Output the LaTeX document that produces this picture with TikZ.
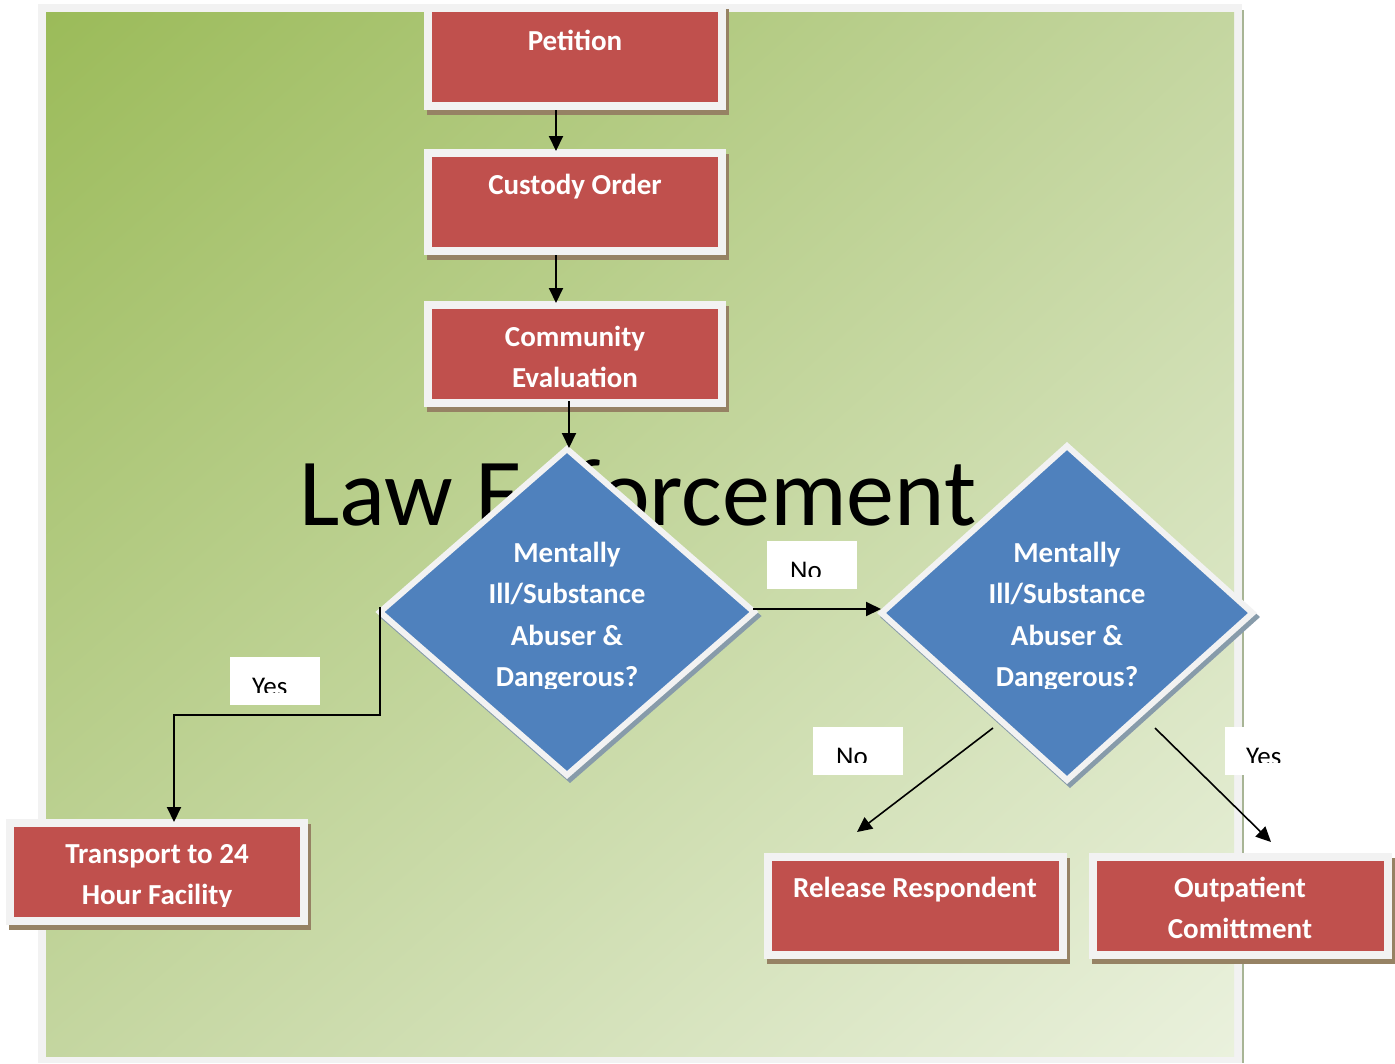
\documentclass[tikz,border=0pt]{standalone}
\usepackage{fontspec}
\setmainfont{Carlito}
\usetikzlibrary{shapes.geometric,arrows.meta,shadings}
\definecolor{boxred}{RGB}{192,80,77}
\definecolor{boxedge}{RGB}{242,242,242}
\definecolor{diablue}{RGB}{79,129,189}
\definecolor{bgdark}{RGB}{155,187,89}
\definecolor{bglight}{RGB}{234,241,221}
\definecolor{bgmid}{RGB}{196,214,160}
\definecolor{boxshadow}{RGB}{150,130,100}
\definecolor{diashadow}{RGB}{135,155,170}
\definecolor{frameshadow}{RGB}{168,181,149}
\begin{document}
\begin{tikzpicture}[x=1pt,y=-1pt,
  flowbox/.style={rectangle, fill=boxred, draw=boxedge, line width=8pt,
    minimum width=294pt, minimum height=98pt, inner sep=0pt, outer sep=0pt,
    preaction={draw=boxshadow, fill=boxshadow, line width=8pt, transform canvas={shift={(3,5)}}}},
  decision/.style={diamond, fill=diablue, draw=boxedge, line width=6pt,
    inner sep=0pt, outer sep=0pt,
    preaction={draw=diashadow, line width=6pt, transform canvas={shift={(3,4)}}}},
  boxtext/.style={anchor=base, inner sep=0pt, text=white,
    font=\bfseries\fontsize{29}{41}\selectfont},
  lblbox/.style={fill=white, minimum width=90pt, minimum height=48pt, inner sep=0pt, anchor=north west},
  lbltext/.style={anchor=base west, inner sep=0pt, font=\fontsize{27}{32}\selectfont},
  arr/.style={line width=2pt, -{Triangle[length=15pt,width=14pt]}},
  arrthin/.style={line width=1.6pt, -{Triangle[length=15pt,width=14pt]}}
]
\useasboundingbox (0,0) rectangle (1395,1063);
\fill[white] (0,0) rectangle (1395,1063);
% background frame
\fill[boxedge] (38,4) rectangle (1242,1063);
\shade[upper left=bgdark, lower right=bglight, upper right=bgmid, lower left=bgmid]
  (46,12) rectangle (1234,1056);
\fill[frameshadow] (1242,10) rectangle (1244,1063);

% title text
\node[anchor=base west, inner sep=0pt, font=\fontsize{96}{110}\selectfont] (title) at (299,525) {Law Enforcement};

% label boxes
\node[lblbox] (lno1) at (767,541) {};
\node[lblbox] (lyes1) at (230,657) {};
\node[lblbox] (lno2) at (813,727) {};
\node[lblbox] (lyes2) at (1225,727) {};
\begin{scope}
  \clip (767,541) rectangle (857,576);
  \node[lbltext] (tno1) at (790,579) {No};
\end{scope}
\begin{scope}
  \clip (230,657) rectangle (320,692);
  \node[lbltext] (tyes1) at (252,695) {Yes};
\end{scope}
\begin{scope}
  \clip (813,727) rectangle (903,762);
  \node[lbltext] (tno2) at (836,765) {No};
\end{scope}
\begin{scope}
  \clip (1225,727) rectangle (1315,762);
  \node[lbltext] (tyes2) at (1246,765) {Yes};
\end{scope}

% boxes
\node[flowbox] (pet) at (575,57) {};
\node[flowbox] (cust) at (575,202) {};
\node[flowbox] (comm) at (575,354) {};
\node[flowbox] (trans) at (157,871.5) {};
\node[flowbox, minimum width=295pt] (rel) at (915,905.5) {};
\node[flowbox, minimum width=295pt] (outp) at (1240.5,905.5) {};

\node[boxtext] (tpet) at (575,50) {Petition};
\node[boxtext] (tcust) at (575,194) {Custody Order};
\node[boxtext] (tcomm1) at (575,346) {Community};
\node[boxtext] (tcomm2) at (575,387) {Evaluation};
\begin{scope}
  \clip (14,826) rectangle (300,906);
  \node[boxtext] (ttr1) at (157,863) {Transport to 24};
  \node[boxtext] (ttr2) at (157,904) {Hour Facility};
\end{scope}
\node[boxtext] (trel) at (915,897) {Release Respondent};
\node[boxtext] (tout1) at (1240,897) {Outpatient};
\node[boxtext] (tout2) at (1240,938) {Comittment};

% decisions
\node[decision, minimum width=374pt, minimum height=326pt] (d1) at (567,612) {};
\node[decision, minimum width=371pt, minimum height=334pt] (d2) at (1067,613) {};
\begin{scope}
  \clip (380,520) rectangle (760,688);
  \node[boxtext] (td1a) at (567,562) {Mentally};
  \node[boxtext] (td1b) at (567,603) {Ill/Substance};
  \node[boxtext] (td1c) at (567,645) {Abuser \&};
  \node[boxtext] (td1d) at (567,686) {Dangerous?};
\end{scope}
\begin{scope}
  \clip (880,520) rectangle (1260,688);
  \node[boxtext] (td2a) at (1067,562) {Mentally};
  \node[boxtext] (td2b) at (1067,603) {Ill/Substance};
  \node[boxtext] (td2c) at (1067,645) {Abuser \&};
  \node[boxtext] (td2d) at (1067,686) {Dangerous?};
\end{scope}

% connectors
\coordinate (c1a) at (556,110);
\coordinate (c1b) at (556,151);
\coordinate (c2a) at (556,255);
\coordinate (c2b) at (556,303);
\coordinate (c3a) at (569,401);
\coordinate (c3b) at (569,448);
\coordinate (d1l) at (380,607);
\coordinate (trtop) at (174,822);
\coordinate (d1r) at (753,609);
\coordinate (d2in) at (881,609);
\coordinate (d2sw) at (993,728);
\coordinate (relin) at (857,832);
\coordinate (d2se) at (1155,728);
\coordinate (outin) at (1271,842);

\draw[arr] (c1a) -- (c1b);
\draw[arr] (c2a) -- (c2b);
\draw[arr] (c3a) -- (c3b);
\draw[arr] (d1l) -- ++(0,108) -| (trtop);
\draw[arr] (d1r) -- (d2in);
\draw[arrthin] (d2sw) -- (relin);
\draw[arrthin] (d2se) -- (outin);
\end{tikzpicture}
\end{document}
